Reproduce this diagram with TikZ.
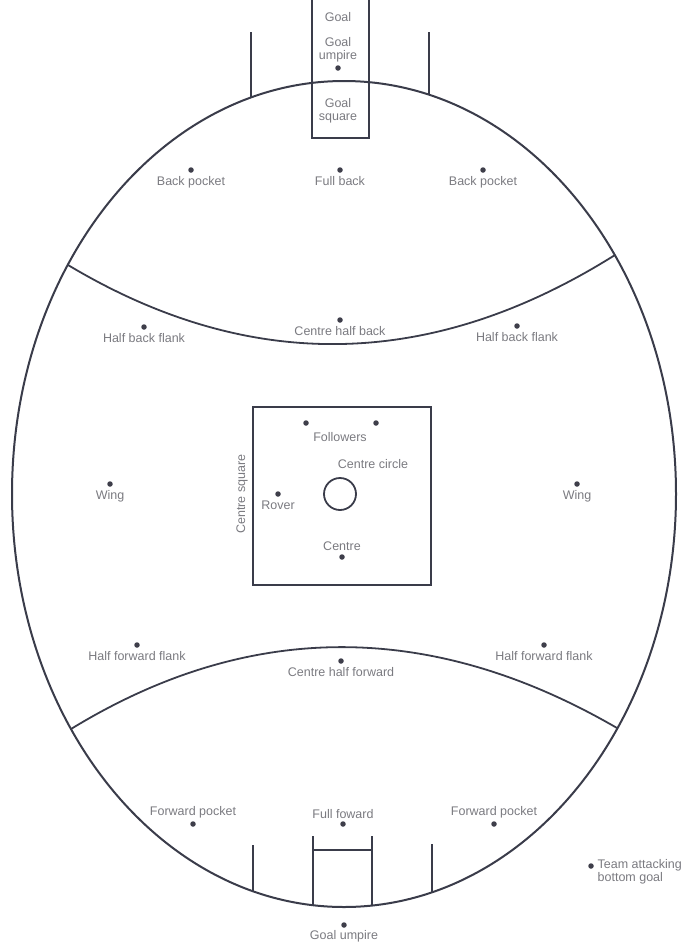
\documentclass[tikz,border=0pt]{standalone}
\usepackage{fontspec}
\setmainfont{Liberation Sans}
\usetikzlibrary{positioning}
\definecolor{lineGrey}{RGB}{58, 60, 74}
\definecolor{textGrey}{RGB}{122, 122, 128}
\definecolor{dotGrey}{RGB}{62, 62, 74}

\begin{document}
\begin{tikzpicture}[x=1pt, y=-1pt]

  % Page frame (pixel grid of the reference, y pointing down)
  \useasboundingbox (0,0) rectangle (688,945);

  % Helper styles for the field
  \tikzset{
    fieldline/.style={draw=lineGrey, line width=1.8pt},
    player/.style={circle, fill=dotGrey, inner sep=0pt, minimum size=5.5pt},
    tag/.style={font=\fontsize{12.5}{13}\selectfont, text=textGrey,
      inner sep=0.5pt, align=center}
  }

  % Boundary: ellipse centred at (344,494), radii 332 x 413
  \draw[fieldline, line width=2pt] (344,494) ellipse [x radius=332pt, y radius=413pt];

  % 50 m arcs (end points on the boundary)
  \coordinate (arcTL) at (68,265);
  \coordinate (arcTR) at (615,255);
  \coordinate (arcBL) at (71,729);
  \coordinate (arcBR) at (617,728);
  \draw[fieldline] (arcTL) .. controls (250,374) and (432,370) .. (arcTR);
  \draw[fieldline] (arcBL) .. controls (249,620) and (431,620) .. (arcBR);

  % Top goal: goal posts with goal square, behind posts
  \draw[fieldline] (312,0) -- (312,138) -- (369,138) -- (369,0);
  \draw[fieldline] (251,32) -- (251,97.5);
  \draw[fieldline] (429,32) -- (429,94.7);

  % Bottom goal
  \draw[fieldline] (313,836) -- (313,905);
  \draw[fieldline] (372,836) -- (372,905.4);
  \draw[fieldline] (313,850) -- (372,850);
  \draw[fieldline] (253,845) -- (253,891);
  \draw[fieldline] (432,844) -- (432,892);

  % Centre square and centre circle
  \draw[fieldline] (253,407) rectangle (431,585);
  \draw[fieldline] (340,494) circle [radius=16pt];

  % Fixed labels
  \node[tag] (goalTop) at (338,17) {Goal};
  \node[tag] (goalSq) at (338,111) {Goal\\square};
  \node[tag] (ccLabel) at (373,464) {Centre circle};
  \node[tag, rotate=90] (csLabel) at (242,494) {Centre square};

  % --- Players ---

  % Goal umpire (top)
  \node[player] (umpT) at (338,68) {};
  \node[tag, above=2pt of umpT] {Goal\\umpire};

  % Back line
  \node[player] (bpL) at (191,170) {};
  \node[tag, below=3pt of bpL] {Back pocket};
  \node[player] (fb) at (340,170) {};
  \node[tag, below=3pt of fb] {Full back};
  \node[player] (bpR) at (483,170) {};
  \node[tag, below=3pt of bpR] {Back pocket};

  % Half back line
  \node[player] (hbfL) at (144,327) {};
  \node[tag, below=3pt of hbfL] {Half back flank};
  \node[player] (chb) at (340,320) {};
  \node[tag, below=3pt of chb] {Centre half back};
  \node[player] (hbfR) at (517,326) {};
  \node[tag, below=3pt of hbfR] {Half back flank};

  % Centre line
  \node[player] (wingL) at (110,484) {};
  \node[tag, below=3pt of wingL] {Wing};
  \node[player] (wingR) at (577,484) {};
  \node[tag, below=3pt of wingR] {Wing};
  \node[player] (folL) at (306,423) {};
  \node[player] (folR) at (376,423) {};
  \node[tag] (folLabel) at (340,437) {Followers};
  \node[player] (rover) at (278,494) {};
  \node[tag, below=3pt of rover] {Rover};
  \node[player] (ctr) at (342,557) {};
  \node[tag, above=3pt of ctr] {Centre};

  % Half forward line
  \node[player] (hffL) at (137,645) {};
  \node[tag, below=3pt of hffL] {Half forward flank};
  \node[player] (chf) at (341,661) {};
  \node[tag, below=3pt of chf] {Centre half forward};
  \node[player] (hffR) at (544,645) {};
  \node[tag, below=3pt of hffR] {Half forward flank};

  % Forward line
  \node[player] (fpL) at (193,824) {};
  \node[tag, above=2pt of fpL] {Forward pocket};
  \node[player] (ff) at (343,824) {};
  \node[tag, above=2pt of ff] {Full foward};
  \node[player] (fpR) at (494,824) {};
  \node[tag, above=2pt of fpR] {Forward pocket};

  % Goal umpire (bottom)
  \node[player] (umpB) at (344,925) {};
  \node[tag, below=2pt of umpB] {Goal umpire};

  % Key
  \node[player] (keyDot) at (591,866) {};
  \node[tag, align=left, anchor=west, right=3pt of keyDot, yshift=-6pt] {Team attacking\\bottom goal};

\end{tikzpicture}
\end{document}
